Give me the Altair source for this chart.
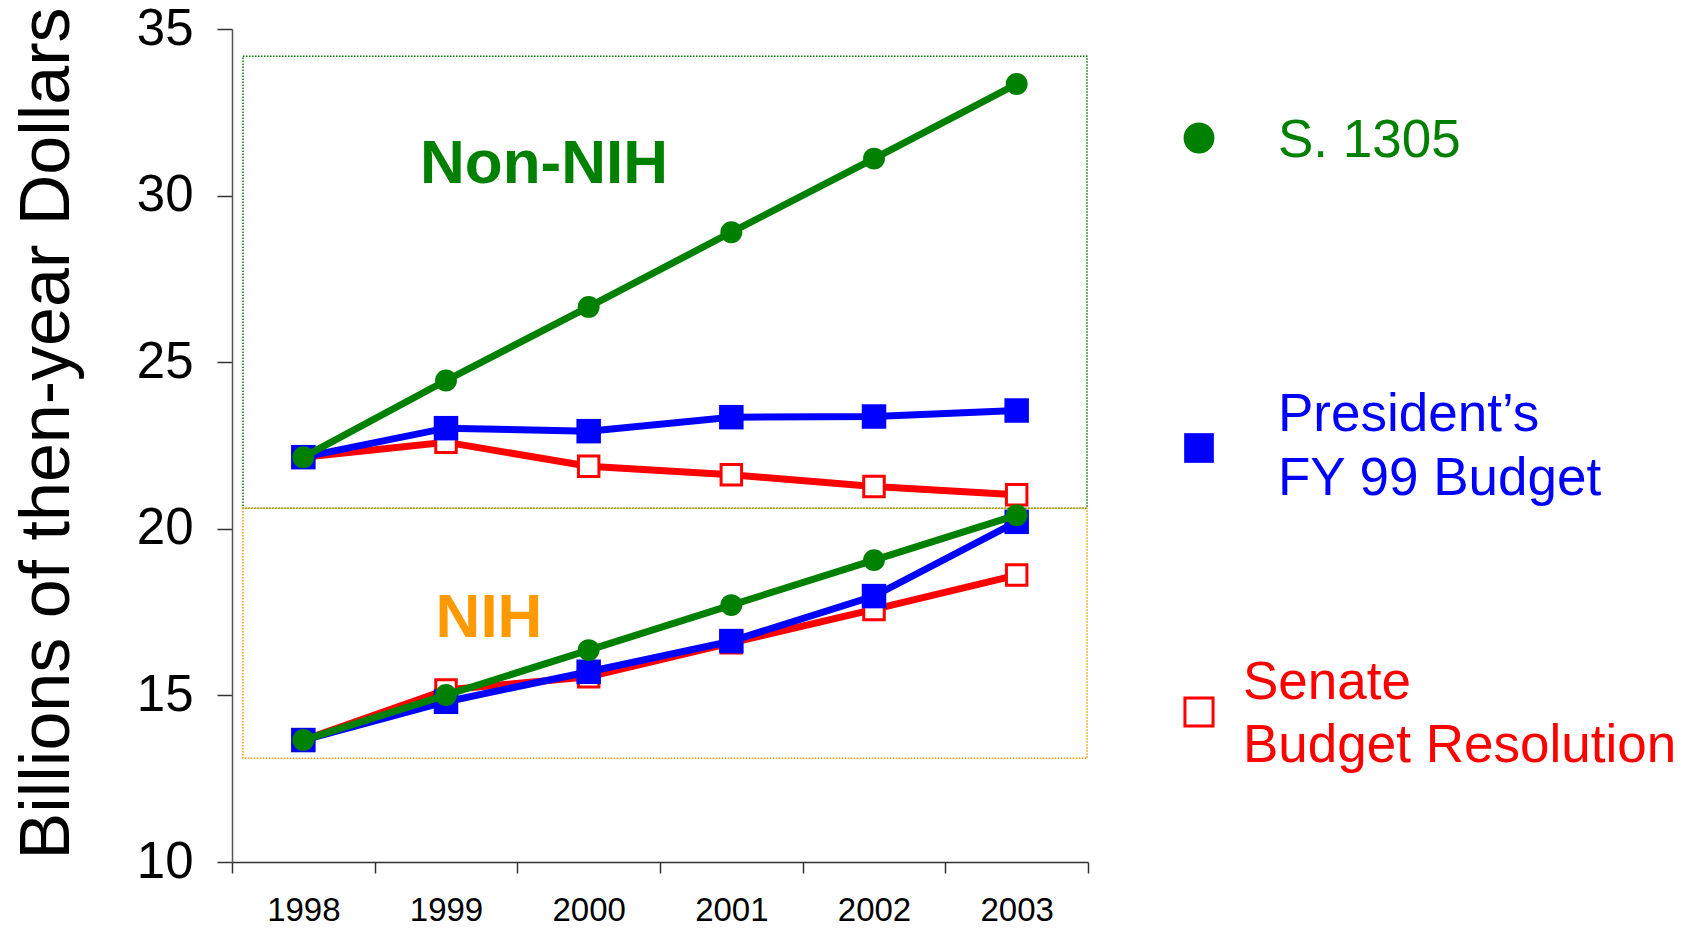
import altair as alt
import pandas as pd

# ---------------- data ----------------
years = ["1998", "1999", "2000", "2001", "2002", "2003"]

s1305_non_nih = [22.15, 24.45, 26.66, 28.90, 31.11, 33.35]
pres_non_nih = [22.15, 23.02, 22.93, 23.35, 23.37, 23.55]
senate_non_nih = [22.15, 22.60, 21.88, 21.62, 21.27, 21.02]

s1305_nih = [13.66, 15.01, 16.36, 17.71, 19.06, 20.41]
pres_nih = [13.66, 14.81, 15.71, 16.63, 17.98, 20.21]
senate_nih = [13.66, 15.16, 15.56, 16.58, 17.58, 18.61]

series_keys = ["senate", "pres", "s1305"]
legend_lines = {
    "s1305": ["S. 1305"],
    "pres": ["President\u2019s", "FY 99 Budget"],
    "senate": ["Senate", "Budget Resolution"],
}
region_labels = ["Non-NIH", "NIH"]
region_top = [34.18, 20.62]
region_bottom = [20.62, 13.11]
y_ticks = [10, 15, 20, 25, 30, 35]
y_title = "Billions of then-year Dollars"

# ---------------- styling ----------------
FONT = "Liberation Sans"
GREEN = "#008000"
BLUE = "#0000FF"
RED = "#FF0000"
ORANGE = "#FF9900"
W, H = 856, 833

values = {
    "s1305": (s1305_non_nih, s1305_nih),
    "pres": (pres_non_nih, pres_nih),
    "senate": (senate_non_nih, senate_nih),
}
rows = []
for key in series_keys:
    non, nih = values[key]
    for y, v in zip(years, non):
        rows.append({"year": y, "value": v, "series": key, "region": "Non-NIH"})
    for y, v in zip(years, nih):
        rows.append({"year": y, "value": v, "series": key, "region": "NIH"})
df = pd.DataFrame(rows)

x_enc = alt.X(
    "year:O",
    sort=years,
    bandPosition=0.5,
    scale=alt.Scale(type="band", domain=years, paddingInner=0, paddingOuter=0),
    axis=alt.Axis(
        title=None, tickBand="extent", labelAngle=0, grid=False,
        domainColor="#333333", domainWidth=1.5, tickColor="#333333", tickWidth=1.5,
        tickSize=11, labelFontSize=33, labelFont=FONT, labelColor="black",
        labelPadding=21,
    ),
)
y_axis = alt.Axis(
    values=y_ticks, grid=False, title=y_title,
    domainColor="#555555", domainWidth=1.5, tickColor="#333333", tickWidth=1.5,
    tickSize=15, labelFontSize=51, labelFont=FONT, labelColor="black", labelPadding=24,
    titleFontSize=70, titleFont=FONT, titleFontWeight="normal", titleColor="black",
    titleAngle=270, titleX=-164, titleY=404, titleAlign="center", titleBaseline="alphabetic",
)
y_scale = alt.Scale(domain=[10, 35], nice=False, zero=False)

layers = []

# region boxes
box_df = pd.DataFrame({"region": region_labels, "value": region_top, "value2": region_bottom})
for reg, col in [("Non-NIH", GREEN), ("NIH", ORANGE)]:
    layers.append(
        alt.Chart(box_df).transform_filter(alt.datum.region == reg)
        .mark_rect(fill="transparent", stroke=col, strokeWidth=1.5, strokeDash=[1.5, 1.5])
        .encode(
            x=alt.value(11), x2=alt.value(855),
            y=alt.Y("value:Q", scale=y_scale, axis=y_axis), y2="value2:Q",
        )
    )

style = {
    "senate": dict(color=RED, point=dict(shape="square", filled=True, fill="white", stroke=RED, strokeWidth=3, size=420, opacity=1)),
    "pres": dict(color=BLUE, point=dict(shape="square", filled=True, fill=BLUE, stroke=BLUE, strokeWidth=0, size=600, opacity=1)),
    "s1305": dict(color=GREEN, point=dict(shape="circle", filled=True, fill=GREEN, stroke=GREEN, strokeWidth=0, size=480, opacity=1)),
}

for key in series_keys:
    sub = alt.Chart(df).transform_filter(alt.datum.series == key)
    layers.append(
        sub.mark_line(color=style[key]["color"], strokeWidth=7).encode(
            x=x_enc, y=alt.Y("value:Q", scale=y_scale, axis=y_axis), detail="region:N"
        )
    )
    layers.append(
        sub.mark_point(**style[key]["point"]).encode(
            x=x_enc, y=alt.Y("value:Q", scale=y_scale, axis=y_axis)
        )
    )

# region labels
reg_df = pd.DataFrame({"label": region_labels})
for reg, col, xp, yp in [("Non-NIH", GREEN, 312, 154), ("NIH", ORANGE, 257, 608)]:
    layers.append(
        alt.Chart(reg_df).transform_filter(alt.datum.label == reg)
        .mark_text(align="center", baseline="alphabetic", fontSize=62, fontWeight="bold", font=FONT, color=col)
        .encode(x=alt.value(xp), y=alt.value(yp), text="label:N")
    )

# custom legend
sym_x = 967
legend_layout = {
    "s1305": dict(sym_y=109, text_x=1046, base=[128], sym=dict(shape="circle", filled=True, fill=GREEN, stroke=GREEN, strokeWidth=0, size=950, opacity=1)),
    "pres": dict(sym_y=419, text_x=1046, base=[402, 466], sym=dict(shape="square", filled=True, fill=BLUE, stroke=BLUE, strokeWidth=0, size=880, opacity=1)),
    "senate": dict(sym_y=683, text_x=1011, base=[670, 733], sym=dict(shape="square", filled=True, fill="white", stroke=RED, strokeWidth=3, size=790, opacity=1)),
}
for key in ["s1305", "pres", "senate"]:
    lay = legend_layout[key]
    col = style[key]["color"]
    ldf = pd.DataFrame({"label": legend_lines[key]})
    layers.append(
        alt.Chart(ldf).transform_filter(alt.datum.label == legend_lines[key][0])
        .mark_point(**lay["sym"]).encode(x=alt.value(sym_x), y=alt.value(lay["sym_y"]))
    )
    for line, by in zip(legend_lines[key], lay["base"]):
        layers.append(
            alt.Chart(ldf).transform_filter(alt.datum.label == line)
            .mark_text(align="left", baseline="alphabetic", fontSize=53, font=FONT, color=col)
            .encode(x=alt.value(lay["text_x"]), y=alt.value(by), text="label:N")
        )

chart = (
    alt.layer(*layers)
    .properties(
        width=W, height=H,
        autosize=alt.AutoSizeParams(type="none"),
        padding={"left": 232, "top": 29, "right": 607, "bottom": 66},
        background="white",
    )
    .configure_view(strokeWidth=0)
)

chart.save("out.html", embed_options={"renderer": "svg", "actions": False})
